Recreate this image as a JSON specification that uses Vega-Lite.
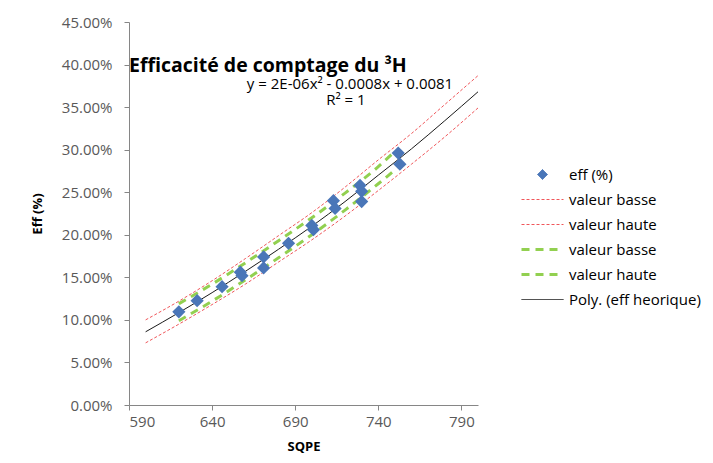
{
  "$schema": "https://vega.github.io/schema/vega-lite/v6.json",
  "autosize": {"type": "none"},
  "padding": {"left": 129, "top": 22, "right": 235, "bottom": 58},
  "width": 349,
  "height": 383,
  "background": "white",
  "config": {
    "view": {"stroke": null},
    "font": "Open Sans",
    "axis": {
      "grid": false,
      "domainColor": "#868686",
      "tickColor": "#868686",
      "tickSize": 5,
      "labelFont": "Open Sans",
      "labelFontSize": 15,
      "labelColor": "#595959",
      "titleFont": "Open Sans",
      "titleFontSize": 13,
      "titleFontWeight": "bold",
      "titleColor": "#000000"
    }
  },
  "datasets": {
    "pts": [
      {"sqpe": 620, "eff": 0.1095, "series": "eff (%)"},
      {"sqpe": 631, "eff": 0.1225, "series": "eff (%)"},
      {"sqpe": 646, "eff": 0.139, "series": "eff (%)"},
      {"sqpe": 657, "eff": 0.156, "series": "eff (%)"},
      {"sqpe": 658, "eff": 0.152, "series": "eff (%)"},
      {"sqpe": 671, "eff": 0.174, "series": "eff (%)"},
      {"sqpe": 671, "eff": 0.161, "series": "eff (%)"},
      {"sqpe": 686, "eff": 0.19, "series": "eff (%)"},
      {"sqpe": 700, "eff": 0.211, "series": "eff (%)"},
      {"sqpe": 701, "eff": 0.206, "series": "eff (%)"},
      {"sqpe": 713, "eff": 0.240, "series": "eff (%)"},
      {"sqpe": 714, "eff": 0.231, "series": "eff (%)"},
      {"sqpe": 729, "eff": 0.258, "series": "eff (%)"},
      {"sqpe": 730, "eff": 0.251, "series": "eff (%)"},
      {"sqpe": 730, "eff": 0.239, "series": "eff (%)"},
      {"sqpe": 752, "eff": 0.296, "series": "eff (%)"},
      {"sqpe": 753, "eff": 0.283, "series": "eff (%)"}
    ],
    "lines": [
      {"sqpe": 600, "eff": 0.073, "series": "valeur basse"},
      {"sqpe": 620, "eff": 0.095, "series": "valeur basse"},
      {"sqpe": 640, "eff": 0.118, "series": "valeur basse"},
      {"sqpe": 660, "eff": 0.142, "series": "valeur basse"},
      {"sqpe": 680, "eff": 0.168, "series": "valeur basse"},
      {"sqpe": 700, "eff": 0.194, "series": "valeur basse"},
      {"sqpe": 720, "eff": 0.222, "series": "valeur basse"},
      {"sqpe": 740, "eff": 0.252, "series": "valeur basse"},
      {"sqpe": 760, "eff": 0.283, "series": "valeur basse"},
      {"sqpe": 780, "eff": 0.315, "series": "valeur basse"},
      {"sqpe": 800, "eff": 0.349, "series": "valeur basse"},
      {"sqpe": 600, "eff": 0.100, "series": "valeur haute"},
      {"sqpe": 620, "eff": 0.122, "series": "valeur haute"},
      {"sqpe": 640, "eff": 0.146, "series": "valeur haute"},
      {"sqpe": 660, "eff": 0.172, "series": "valeur haute"},
      {"sqpe": 680, "eff": 0.199, "series": "valeur haute"},
      {"sqpe": 700, "eff": 0.226, "series": "valeur haute"},
      {"sqpe": 720, "eff": 0.256, "series": "valeur haute"},
      {"sqpe": 740, "eff": 0.288, "series": "valeur haute"},
      {"sqpe": 760, "eff": 0.319, "series": "valeur haute"},
      {"sqpe": 780, "eff": 0.353, "series": "valeur haute"},
      {"sqpe": 800, "eff": 0.387, "series": "valeur haute"},
      {"sqpe": 620, "eff": 0.099, "series": "valeur basse "},
      {"sqpe": 640, "eff": 0.122, "series": "valeur basse "},
      {"sqpe": 660, "eff": 0.147, "series": "valeur basse "},
      {"sqpe": 680, "eff": 0.173, "series": "valeur basse "},
      {"sqpe": 700, "eff": 0.200, "series": "valeur basse "},
      {"sqpe": 720, "eff": 0.229, "series": "valeur basse "},
      {"sqpe": 740, "eff": 0.260, "series": "valeur basse "},
      {"sqpe": 750, "eff": 0.276, "series": "valeur basse "},
      {"sqpe": 620, "eff": 0.119, "series": "valeur haute "},
      {"sqpe": 640, "eff": 0.142, "series": "valeur haute "},
      {"sqpe": 660, "eff": 0.167, "series": "valeur haute "},
      {"sqpe": 680, "eff": 0.193, "series": "valeur haute "},
      {"sqpe": 700, "eff": 0.220, "series": "valeur haute "},
      {"sqpe": 720, "eff": 0.249, "series": "valeur haute "},
      {"sqpe": 740, "eff": 0.280, "series": "valeur haute "},
      {"sqpe": 750, "eff": 0.298, "series": "valeur haute "},
      {"sqpe": 600, "eff": 0.086, "series": "Poly. (eff heorique)"},
      {"sqpe": 620, "eff": 0.1085, "series": "Poly. (eff heorique)"},
      {"sqpe": 640, "eff": 0.132, "series": "Poly. (eff heorique)"},
      {"sqpe": 660, "eff": 0.157, "series": "Poly. (eff heorique)"},
      {"sqpe": 680, "eff": 0.183, "series": "Poly. (eff heorique)"},
      {"sqpe": 700, "eff": 0.210, "series": "Poly. (eff heorique)"},
      {"sqpe": 720, "eff": 0.239, "series": "Poly. (eff heorique)"},
      {"sqpe": 740, "eff": 0.270, "series": "Poly. (eff heorique)"},
      {"sqpe": 760, "eff": 0.301, "series": "Poly. (eff heorique)"},
      {"sqpe": 780, "eff": 0.334, "series": "Poly. (eff heorique)"},
      {"sqpe": 800, "eff": 0.368, "series": "Poly. (eff heorique)"}
    ],
    "notes": [
      {"sqpe": 590, "eff": 0.398, "label": "Efficacité de comptage du ³H", "kind": "title"},
      {"sqpe": 723, "eff": 0.377, "label": "y = 2E-06x² - 0.0008x + 0.0081", "kind": "eq"},
      {"sqpe": 720.5, "eff": 0.358, "label": "R² = 1", "kind": "eq"}
    ]
  },
  "layer": [
    {
      "encoding": {
        "x": {
          "field": "sqpe", "type": "quantitative", "title": "SQPE",
          "scale": {"domain": [590, 800], "nice": false, "zero": false},
          "axis": {"values": [590, 640, 690, 740, 790], "labelPadding": 4, "titlePadding": 11}
        },
        "y": {
          "field": "eff", "type": "quantitative", "title": "Eff (%)",
          "scale": {"domain": [0, 0.45], "nice": false},
          "axis": {"values": [0, 0.05, 0.1, 0.15, 0.2, 0.25, 0.3, 0.35, 0.4, 0.45], "format": ".2%", "labelPadding": 12, "titlePadding": 17}
        },
        "color": {
          "field": "series", "type": "nominal",
          "scale": {
            "domain": ["eff (%)", "valeur basse", "valeur haute", "valeur basse ", "valeur haute ", "Poly. (eff heorique)"],
            "range": ["#4A76B8", "#F0565A", "#F0565A", "#92D050", "#92D050", "#1a1a1a"]
          },
          "legend": {
            "orient": "none",
            "legendX": 406,
            "legendY": 145,
            "title": null,
            "labelFont": "Open Sans",
            "labelFontSize": 15,
            "labelColor": "#000000",
            "labelOffset": 19,
            "symbolType": "stroke",
            "rowPadding": 9,
            "encode": {
              "symbols": {
                "update": {
                  "shape": {"signal": "datum.value === 'eff (%)' ? 'diamond' : 'stroke'"},
                  "fill": {"signal": "datum.value === 'eff (%)' ? '#4A76B8' : 'transparent'"},
                  "stroke": {"signal": "datum.value === 'eff (%)' ? '#4A76B8' : (datum.value === 'Poly. (eff heorique)' ? '#1a1a1a' : (datum.value === 'valeur basse' || datum.value === 'valeur haute' ? '#F0565A' : '#92D050'))"},
                  "strokeDash": {"signal": "datum.value === 'valeur basse' || datum.value === 'valeur haute' ? [3, 2] : (datum.value === 'valeur basse ' || datum.value === 'valeur haute ' ? [8, 6] : [1, 0])"},
                  "strokeWidth": {"signal": "datum.value === 'valeur basse ' || datum.value === 'valeur haute ' ? 3 : 1"},
                  "size": {"signal": "datum.value === 'eff (%)' ? 100 : 1764"},
                  "opacity": {"value": 1}
                }
              }
            }
          }
        }
      },
      "layer": [
        {
          "data": {"name": "lines"},
          "transform": [{"filter": "datum.series === 'valeur basse' || datum.series === 'valeur haute'"}],
          "mark": {"type": "line", "strokeWidth": 1, "strokeDash": [3, 2], "interpolate": "monotone"}
        },
        {
          "data": {"name": "lines"},
          "transform": [{"filter": "datum.series === 'valeur basse ' || datum.series === 'valeur haute '"}],
          "mark": {"type": "line", "strokeWidth": 3, "strokeDash": [8, 6], "interpolate": "monotone"}
        },
        {
          "data": {"name": "lines"},
          "transform": [{"filter": "datum.series === 'Poly. (eff heorique)'"}],
          "mark": {"type": "line", "strokeWidth": 1, "interpolate": "monotone"}
        },
        {
          "data": {"name": "pts"},
          "mark": {"type": "point", "shape": "diamond", "filled": true, "size": 175, "opacity": 1}
        }
      ]
    },
    {
      "data": {"name": "notes"},
      "transform": [{"filter": "datum.kind === 'title'"}],
      "mark": {"type": "text", "align": "left", "baseline": "middle", "font": "Open Sans", "fontSize": 19.5, "fontWeight": "bold", "color": "#000000"},
      "encoding": {
        "x": {"field": "sqpe", "type": "quantitative"},
        "y": {"field": "eff", "type": "quantitative"},
        "text": {"field": "label"}
      }
    },
    {
      "data": {"name": "notes"},
      "transform": [{"filter": "datum.kind === 'eq'"}],
      "mark": {"type": "text", "align": "center", "baseline": "middle", "font": "Open Sans", "fontSize": 15, "color": "#000000"},
      "encoding": {
        "x": {"field": "sqpe", "type": "quantitative"},
        "y": {"field": "eff", "type": "quantitative"},
        "text": {"field": "label"}
      }
    }
  ]
}
